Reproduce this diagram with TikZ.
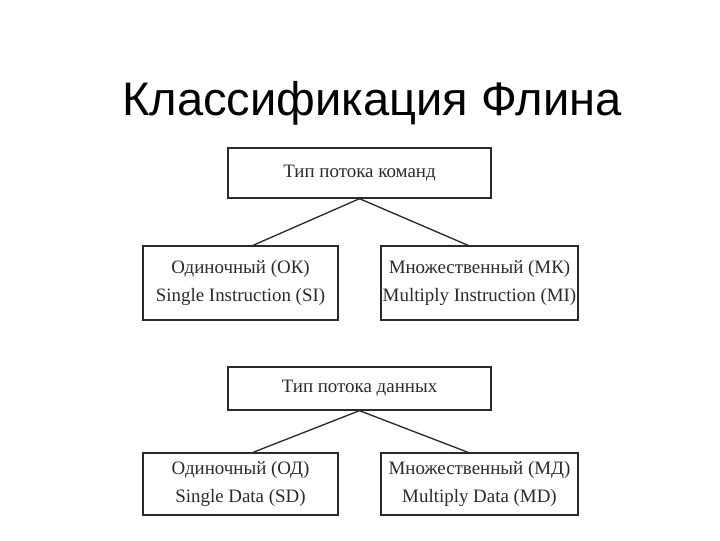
\documentclass[tikz,border=0pt]{standalone}
\usepackage{fontspec}
\setmainfont{Liberation Serif}
\newfontfamily\titlefont{Liberation Sans}
\definecolor{ink}{HTML}{2A2A2A}
\begin{document}
\begin{tikzpicture}[x=0.75pt,y=-0.75pt,
  box/.style={draw=ink,line width=1pt,inner sep=0pt,text=ink,font=\fontsize{14.2}{21}\selectfont,align=center},
  link/.style={draw=ink,line width=1pt}]
\useasboundingbox (0,0) rectangle (720,540);
\node[font=\titlefont\fontsize{35.3}{40}\selectfont] (title) at (372,103) {Классификация Флина};
\node[box,minimum width=197.25pt,minimum height=37.5pt] (top1) at (359.5,173) {Тип потока команд};
\node[box,minimum width=146.25pt,minimum height=55.5pt] (left1) at (240.5,283) {Одиночный (ОК)\\Single Instruction (SI)};
\node[box,minimum width=147.75pt,minimum height=55.5pt] (right1) at (479.5,283) {Множественный (МК)\\Multiply Instruction (MI)};
\node[box,minimum width=197.25pt,minimum height=32.25pt] (top2) at (359.5,388.5) {Тип потока данных};
\node[box,minimum width=146.25pt,minimum height=46.5pt] (left2) at (240.5,484) {Одиночный (ОД)\\Single Data (SD)};
\node[box,minimum width=147.75pt,minimum height=46.5pt] (right2) at (479.5,484) {Множественный (МД)\\Multiply Data (MD)};
\draw[link] (top1.south) -- ([xshift=9.4pt]left1.north);
\draw[link] (top1.south) -- ([xshift=-8.6pt]right1.north);
\draw[link] (top2.south) -- ([xshift=9.4pt]left2.north);
\draw[link] (top2.south) -- ([xshift=-8.6pt]right2.north);
\end{tikzpicture}
\end{document}
